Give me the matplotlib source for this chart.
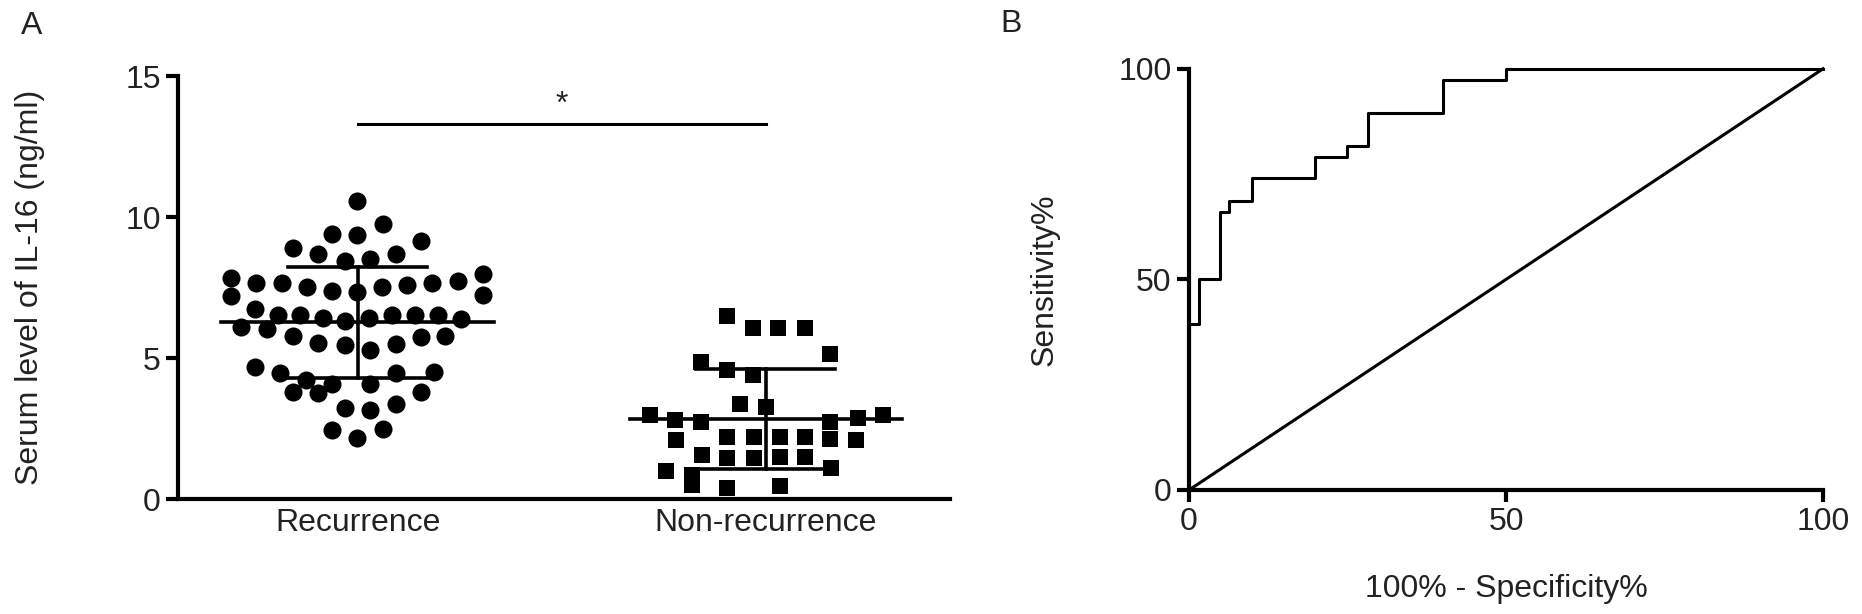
import matplotlib.pyplot as plt
import numpy as np

plt.rcParams['font.family'] = ['Liberation Sans', 'DejaVu Sans']

# panel A: serum IL-16, x = jitter offset from group centre, y = ng/ml
rec_x = [-0.002, 0.062, -0.064, -0.002, 0.156, -0.158, -0.097, -0.032, 0.030, 0.094,
         -0.309, -0.309, -0.248, -0.186, -0.124, -0.064, -0.002, 0.059, 0.121, 0.183,
         0.245, 0.307, 0.307,
         -0.252, -0.196, -0.141, -0.084, -0.030, 0.027, 0.084, 0.141, 0.196, 0.252,
         -0.285, -0.223,
         -0.158, -0.097, -0.032, 0.030, 0.094, 0.156, 0.213,
         -0.252, -0.191, -0.126, -0.064, -0.158, -0.097, 0.030, 0.094, 0.156, 0.188,
         -0.032, 0.030, 0.094, -0.064, 0.062, -0.002]
rec_y = [10.58, 9.75, 9.42, 9.35, 9.16, 8.91, 8.68, 8.44, 8.50, 8.68,
         7.83, 7.20, 7.65, 7.65, 7.51, 7.38, 7.35, 7.53, 7.59, 7.65,
         7.75, 8.00, 7.25,
         6.73, 6.52, 6.52, 6.41, 6.32, 6.41, 6.52, 6.52, 6.52, 6.40,
         6.11, 6.05,
         5.79, 5.54, 5.48, 5.28, 5.52, 5.76, 5.80,
         4.67, 4.48, 4.22, 4.10, 3.81, 3.75, 4.10, 4.48, 3.81, 4.51,
         3.25, 3.16, 3.37, 2.47, 2.50, 2.18]

non_x = [-0.095, -0.032, 0.030, 0.095, 0.158,
         -0.158, -0.095, -0.032,
         -0.064, 0.000,
         -0.285, -0.223, -0.160, 0.158, 0.225, 0.287,
         -0.220, -0.095, -0.030, 0.034, 0.095, 0.158, 0.220,
         -0.157, -0.095, -0.030, 0.034, 0.095,
         -0.245, -0.180, 0.160,
         -0.180, -0.095, 0.034]
non_y = [6.49, 6.07, 6.07, 6.07, 5.15,
         4.87, 4.57, 4.40,
         3.39, 3.27,
         2.98, 2.80, 2.74, 2.72, 2.89, 3.00,
         2.10, 2.20, 2.20, 2.20, 2.20, 2.15, 2.10,
         1.55, 1.45, 1.45, 1.50, 1.50,
         1.00, 0.85, 1.10,
         0.50, 0.40, 0.45]

groups = ['Recurrence', 'Non-recurrence']
means = [6.27, 2.84]
sds = [1.98, 1.76]

# panel B: ROC curve corners
fpr = [0, 0, 1.5, 4.8, 6.3, 10.0, 19.9, 24.9, 28.3, 40, 50, 100]
tpr = [0, 39.5, 50, 66, 68.5, 74, 79, 81.6, 89.6, 97.4, 100, 100]

txt = '#222222'
fs = 23

fig = plt.figure(figsize=(18.62, 6.14), dpi=100)

ax1 = fig.add_axes([0.0956, 0.187, 0.4144, 0.689])
ax1.scatter(np.array(rec_x) + 0, rec_y, s=13**2, marker='o', color='black',
            linewidths=0, clip_on=False, zorder=2)
ax1.scatter(np.array(non_x) + 1, non_y, s=12**2, marker='s', color='black',
            linewidths=0, clip_on=False, zorder=2)
for i in range(2):
    m, sd = means[i], sds[i]
    ax1.plot([i - 0.334, i + 0.334], [m, m], color='black', lw=2.6, zorder=3)
    ax1.plot([i - 0.17, i + 0.17], [m + sd, m + sd], color='black', lw=2.6, zorder=3)
    ax1.plot([i - 0.17, i + 0.17], [m - sd, m - sd], color='black', lw=2.6, zorder=3)
    ax1.plot([i, i], [m - sd, m + sd], color='black', lw=2.6, zorder=3)
ax1.plot([0, 1], [13.3, 13.3], color='black', lw=2.2, clip_on=False)
ax1.text(0.5, 13.45, '*', ha='center', va='bottom', fontsize=fs, color=txt)

ax1.set_xlim(-0.44, 1.45)
ax1.set_ylim(0, 15)
ax1.set_yticks([0, 5, 10, 15])
ax1.set_xticks([0, 1])
ax1.set_xticklabels(groups)
ax1.set_ylabel('Serum level of IL-16 (ng/ml)', fontsize=fs, color=txt)
ax1.yaxis.set_label_coords(-0.172, 0.5)

ax2 = fig.add_axes([0.6386, 0.202, 0.3405, 0.686])
ax2.plot(fpr, tpr, drawstyle='steps-post', color='black', lw=2.2, clip_on=False)
ax2.plot([0, 100], [0, 100], color='black', lw=2.2, clip_on=False)
ax2.set_xlim(0, 100)
ax2.set_ylim(0, 100)
ax2.set_xticks([0, 50, 100])
ax2.set_yticks([0, 50, 100])
ax2.set_xlabel('100% - Specificity%', fontsize=fs, color=txt)
ax2.set_ylabel('Sensitivity%', fontsize=fs, color=txt)
ax2.xaxis.set_label_coords(0.5, -0.2)
ax2.yaxis.set_label_coords(-0.205, 0.5)

for ax in (ax1, ax2):
    for side in ('top', 'right'):
        ax.spines[side].set_visible(False)
    for side in ('left', 'bottom'):
        ax.spines[side].set_linewidth(3)
    ax.tick_params(axis='both', labelsize=fs, labelcolor=txt, width=3, length=8.5, pad=4)
ax1.tick_params(axis='x', length=0, pad=6)

fig.text(21 / 1862, 1 - 26 / 614, 'A', fontsize=fs, color=txt, ha='left', va='center')
fig.text(1000 / 1862, 1 - 24 / 614, 'B', fontsize=fs, color=txt, ha='left', va='center')

fig.savefig('out.png', dpi=100)
